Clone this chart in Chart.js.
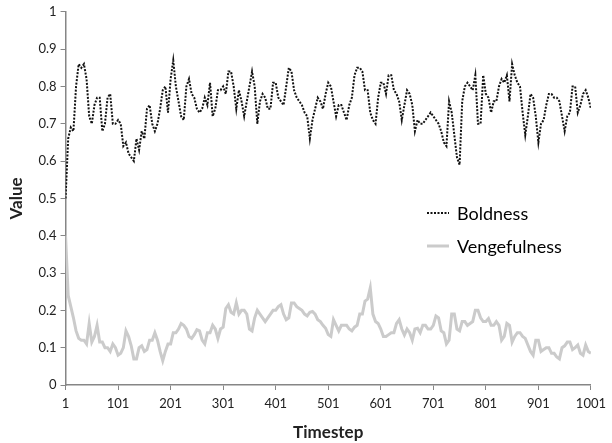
<!DOCTYPE html>
<html>
<head>
<meta charset="utf-8">
<script src="https://cdn.jsdelivr.net/npm/chart.js@4"></script>
<style>
  html, body { margin: 0; padding: 0; background: #fff; }
  #wrap { width: 612px; height: 443px; }
</style>
</head>
<body>
<div id="wrap"><canvas id="my-chart" width="612" height="443"></canvas></div>
<script>
// values every 5 timesteps (1, 6, 11 ... 1001)
var boldness = [
  0.50, 0.66, 0.69, 0.68, 0.80, 0.86, 0.85, 0.86, 0.82, 0.72,
  0.70, 0.75, 0.77, 0.77, 0.68, 0.70, 0.77, 0.78, 0.70, 0.70,
  0.71, 0.70, 0.64, 0.65, 0.62, 0.61, 0.60, 0.66, 0.63, 0.68,
  0.66, 0.74, 0.75, 0.70, 0.68, 0.70, 0.74, 0.79, 0.80, 0.73,
  0.82, 0.87, 0.80, 0.76, 0.72, 0.71, 0.80, 0.82, 0.78, 0.77,
  0.74, 0.73, 0.74, 0.77, 0.75, 0.81, 0.72, 0.74, 0.79, 0.79,
  0.80, 0.78, 0.84, 0.84, 0.80, 0.74, 0.79, 0.76, 0.72, 0.76,
  0.80, 0.84, 0.80, 0.70, 0.76, 0.78, 0.77, 0.74, 0.74, 0.81,
  0.81, 0.77, 0.76, 0.75, 0.80, 0.85, 0.84, 0.79, 0.77, 0.76,
  0.75, 0.73, 0.72, 0.66, 0.71, 0.74, 0.77, 0.76, 0.74, 0.78,
  0.81, 0.80, 0.76, 0.72, 0.75, 0.75, 0.73, 0.71, 0.75, 0.77,
  0.83, 0.85, 0.85, 0.84, 0.79, 0.79, 0.73, 0.71, 0.70, 0.77,
  0.81, 0.81, 0.78, 0.83, 0.83, 0.79, 0.78, 0.76, 0.71, 0.75,
  0.79, 0.78, 0.75, 0.68, 0.71, 0.70, 0.70, 0.71, 0.72, 0.73,
  0.72, 0.71, 0.70, 0.68, 0.65, 0.64, 0.76, 0.73, 0.67, 0.61,
  0.59, 0.76, 0.80, 0.81, 0.80, 0.79, 0.83, 0.70, 0.70, 0.83,
  0.78, 0.77, 0.73, 0.76, 0.76, 0.80, 0.82, 0.81, 0.83, 0.76,
  0.86, 0.83, 0.81, 0.80, 0.73, 0.67, 0.72, 0.78, 0.77, 0.72,
  0.65, 0.70, 0.71, 0.75, 0.78, 0.78, 0.77, 0.77, 0.76, 0.72,
  0.68, 0.72, 0.73, 0.80, 0.80, 0.73, 0.75, 0.78, 0.79, 0.77,
  0.74
];
var vengefulness = [
  0.40, 0.24, 0.21, 0.18, 0.145, 0.125, 0.12, 0.12, 0.11, 0.165,
  0.115, 0.13, 0.16, 0.115, 0.115, 0.10, 0.10, 0.09, 0.11, 0.10,
  0.08, 0.085, 0.10, 0.145, 0.13, 0.105, 0.07, 0.07, 0.10, 0.105,
  0.09, 0.095, 0.12, 0.12, 0.14, 0.12, 0.09, 0.065, 0.09, 0.11,
  0.11, 0.14, 0.14, 0.15, 0.165, 0.16, 0.15, 0.13, 0.125, 0.135,
  0.148, 0.145, 0.12, 0.11, 0.14, 0.14, 0.16, 0.15, 0.125, 0.15,
  0.155, 0.205, 0.215, 0.195, 0.19, 0.22, 0.19, 0.20, 0.20, 0.19,
  0.15, 0.145, 0.18, 0.20, 0.19, 0.18, 0.17, 0.18, 0.19, 0.20,
  0.20, 0.21, 0.215, 0.19, 0.175, 0.18, 0.22, 0.22, 0.21, 0.205,
  0.20, 0.19, 0.185, 0.195, 0.197, 0.19, 0.175, 0.17, 0.16, 0.152,
  0.135, 0.13, 0.175, 0.16, 0.145, 0.16, 0.16, 0.16, 0.15, 0.145,
  0.155, 0.16, 0.19, 0.19, 0.225, 0.23, 0.26, 0.19, 0.17, 0.165,
  0.15, 0.13, 0.13, 0.135, 0.14, 0.14, 0.165, 0.175, 0.15, 0.134,
  0.15, 0.14, 0.12, 0.15, 0.152, 0.14, 0.16, 0.16, 0.15, 0.15,
  0.16, 0.185, 0.18, 0.145, 0.14, 0.11, 0.12, 0.19, 0.19, 0.15,
  0.145, 0.17, 0.17, 0.16, 0.165, 0.17, 0.20, 0.20, 0.18, 0.17,
  0.17, 0.178, 0.16, 0.16, 0.17, 0.16, 0.12, 0.13, 0.165, 0.16,
  0.115, 0.13, 0.14, 0.14, 0.13, 0.125, 0.107, 0.09, 0.08, 0.12,
  0.12, 0.09, 0.095, 0.10, 0.10, 0.085, 0.085, 0.075, 0.07, 0.10,
  0.105, 0.115, 0.115, 0.095, 0.10, 0.107, 0.085, 0.08, 0.107, 0.09,
  0.085
];
var xTicks = [1, 101, 201, 301, 401, 501, 601, 701, 801, 901, 1001];
var seriesNames = ['Boldness', 'Vengefulness'];

var timesteps = [];
for (var i = 0; i < boldness.length; i++) timesteps.push(1 + i * 5);

function pts(vals) {
  return vals.map(function (v, i) { return { x: timesteps[i], y: v }; });
}

var axisGray = '#868686';
var font = 'Lato';

// legend drawn inside the plot, middle right
var legendInside = {
  id: 'legendInside',
  afterDraw: function (chart) {
    var c = chart.ctx;
    var sets = chart.data.datasets;
    var x0 = 427, y0 = 213, gap = 33;
    c.save();
    c.font = '18px ' + font;
    c.textBaseline = 'middle';
    c.fillStyle = '#000';
    sets.forEach(function (ds, i) {
      var y = y0 + i * gap;
      c.beginPath();
      c.strokeStyle = ds.borderColor;
      c.lineWidth = ds.borderWidth;
      c.setLineDash(ds.borderDash || []);
      c.moveTo(x0, y);
      c.lineTo(x0 + 22, y);
      c.stroke();
      c.setLineDash([]);
      c.fillText(ds.label, x0 + 30, y + 1);
    });
    c.restore();
  }
};

var ctx = document.getElementById('my-chart');
var myChart = new Chart(ctx, {
  type: 'line',
  data: {
    datasets: [
      {
        label: seriesNames[0],
        data: pts(boldness),
        borderColor: '#111',
        borderWidth: 2,
        borderDash: [2, 1.5],
        pointRadius: 0,
        tension: 0
      },
      {
        label: seriesNames[1],
        data: pts(vengefulness),
        borderColor: '#cbcbcb',
        borderWidth: 3,
        pointRadius: 0,
        tension: 0
      }
    ]
  },
  options: {
    responsive: false,
    animation: false,
    layout: { padding: { top: 8, right: 8, left: 2, bottom: 0 } },
    plugins: {
      legend: { display: false },
      tooltip: { enabled: false }
    },
    scales: {
      x: {
        type: 'linear',
        min: 1,
        max: 1001,
        afterBuildTicks: function (scale) {
          scale.ticks = xTicks.map(function (v) { return { value: v }; });
        },
        grid: { drawOnChartArea: false, drawTicks: true, tickLength: 5, color: axisGray },
        border: { color: axisGray, width: 1.5 },
        ticks: {
          color: '#222', font: { family: font, size: 13 }, padding: 6, maxRotation: 0,
          callback: function (v) { return String(v); }
        },
        title: { display: true, text: 'Timestep', color: '#222', font: { family: font, size: 17, weight: 'bold' }, padding: { top: 5, bottom: 0 } }
      },
      y: {
        min: 0,
        max: 1,
        ticks: {
          stepSize: 0.1, color: '#222', font: { family: font, size: 13 }, padding: 4,
          callback: function (v) { return String(Math.round(v * 10) / 10); }
        },
        grid: { drawOnChartArea: false, drawTicks: true, tickLength: 5, color: axisGray },
        border: { color: axisGray, width: 1.5 },
        title: { display: true, text: 'Value', color: '#222', font: { family: font, size: 17, weight: 'bold' }, padding: { bottom: 8 } }
      }
    }
  },
  plugins: [legendInside]
});
</script>
</body>
</html>
